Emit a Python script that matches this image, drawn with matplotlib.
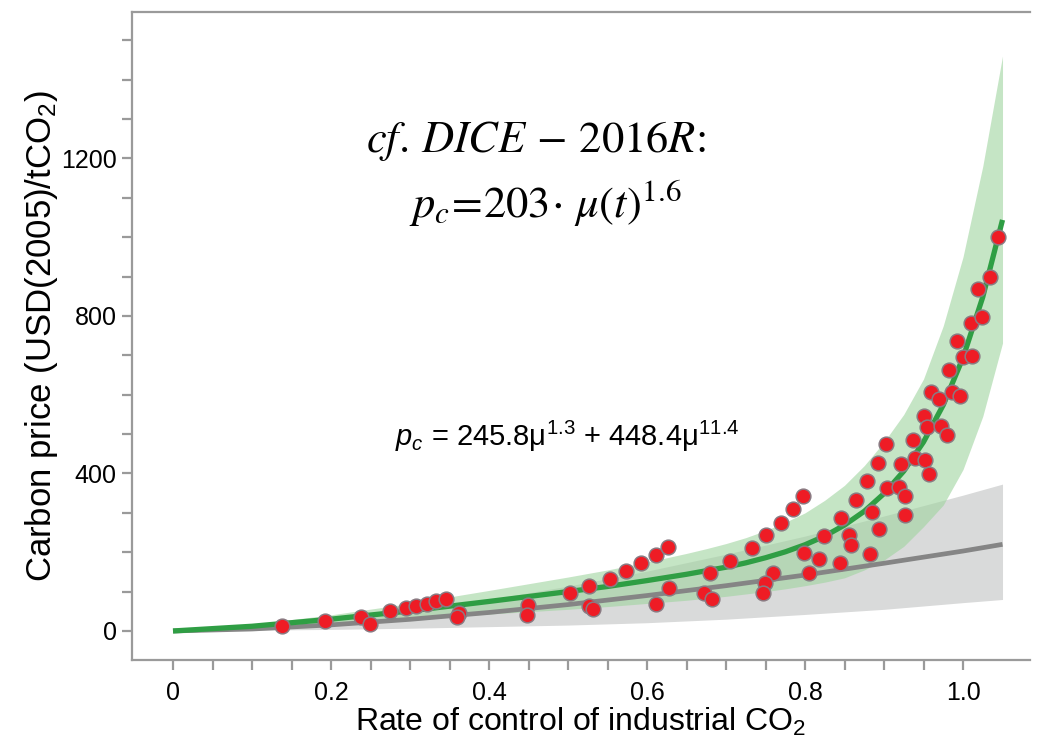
import matplotlib
matplotlib.use("Agg")
import matplotlib.pyplot as plt

plt.rcParams['mathtext.fontset'] = 'custom'
plt.rcParams['mathtext.rm'] = 'Liberation Sans'
plt.rcParams['mathtext.it'] = 'Liberation Sans:italic'
plt.rcParams['mathtext.bf'] = 'Liberation Sans:bold'

# ---- data ----
fit_mu = [0, 0.1, 0.2, 0.3, 0.4, 0.5, 0.55, 0.6, 0.65, 0.675, 0.7, 0.725, 0.75,
          0.775, 0.8, 0.825, 0.85, 0.875, 0.9, 0.925, 0.95, 0.975, 1.0, 1.025, 1.05]
fit_price = [0, 12, 30, 51, 75, 100, 113, 128, 144, 153, 162, 173, 186,
             201, 219, 241, 269, 304, 349, 406, 480, 574, 694, 848, 1044]
fit_upper = [0, 17, 41, 70, 103, 137, 155, 175, 197, 209, 222, 237, 255,
             276, 300, 332, 370, 420, 480, 550, 640, 775, 950, 1180, 1460]
fit_lower = [0, 7, 18, 31, 43, 55, 62, 70, 78, 83, 88, 94, 100,
             107, 115, 124, 135, 155, 180, 215, 265, 320, 410, 545, 731]

dice_mu = [0, 0.1, 0.2, 0.3, 0.4, 0.5, 0.6, 0.7, 0.8, 0.9, 1.0, 1.05]
dice_price = [0, 5, 15.5, 29.6, 47, 67, 90, 115, 142, 172, 203, 220]
dice_upper = [0, 9, 26, 50, 80, 114, 152, 195, 241, 292, 345, 373]
dice_lower = [0, 2, 4, 7, 11, 15, 21, 30, 42, 55, 72, 80]

pts_mu = [0.138, 0.192, 0.238, 0.249, 0.275, 0.295, 0.308, 0.321, 0.333, 0.345,
          0.362, 0.360, 0.449, 0.448, 0.503, 0.527, 0.527, 0.532, 0.553, 0.574,
          0.593, 0.611, 0.626, 0.628, 0.612, 0.680, 0.672, 0.682, 0.705, 0.733,
          0.751, 0.770, 0.785, 0.798, 0.759, 0.749, 0.747, 0.799, 0.805, 0.818,
          0.824, 0.845, 0.844, 0.856, 0.858, 0.864, 0.879, 0.892, 0.903, 0.882,
          0.894, 0.885, 0.904, 0.919, 0.927, 0.927, 0.921, 0.937, 0.939, 0.952,
          0.957, 0.950, 0.955, 0.972, 0.980, 0.960, 0.969, 0.986, 0.996, 0.982,
          0.993, 1.000, 1.012, 1.010, 1.024, 1.019, 1.034, 1.044]
pts_price = [13, 25, 36, 17, 52, 59, 64, 69, 76, 82,
             45, 36, 66, 41, 96, 114, 63, 55, 132, 153,
             173, 193, 214, 108, 69, 147, 97, 80, 178, 210,
             244, 275, 311, 343, 147, 121, 96, 197, 147, 184,
             241, 288, 172, 245, 219, 333, 382, 427, 476, 196,
             259, 302, 364, 366, 344, 295, 425, 485, 440, 434,
             398, 546, 517, 521, 497, 606, 589, 608, 597, 663,
             737, 697, 698, 781, 798, 868, 898, 1000]

x_ticks = [0, 0.2, 0.4, 0.6, 0.8, 1.0]
x_ticklabels = ["0", "0.2", "0.4", "0.6", "0.8", "1.0"]
x_minor = [i * 0.05 for i in range(21)]
y_ticks = [0, 400, 800, 1200]
y_ticklabels = ["0", "400", "800", "1200"]
y_minor = [i * 100 for i in range(16)]

# ---- figure ----
W, H = 1038, 738
fig = plt.figure(figsize=(W / 100, H / 100), dpi=100)
ax = fig.add_axes([132 / W, 1 - 660 / H, (1030 - 132) / W, (660 - 12) / H])

ax.fill_between(dice_mu, dice_lower, dice_upper, color='#d9dada', lw=0, zorder=1)
ax.fill_between(fit_mu, fit_lower, fit_upper, color='#9fd49f', alpha=0.6, lw=0, zorder=2)
ax.plot(dice_mu, dice_price, color='#858585', lw=3.4, zorder=3, solid_capstyle='butt')
ax.plot(fit_mu, fit_price, color='#2f9e44', lw=3.8, zorder=4, solid_capstyle='butt')
ax.scatter(pts_mu, pts_price, s=112, facecolor='#ee1c25', edgecolor='#8a7a82',
           linewidths=1.1, zorder=5)

ax.set_xlim(-0.0519, 1.0848)
ax.set_ylim(-73.7, 1572)

ax.set_xticks(x_ticks)
ax.set_xticklabels(x_ticklabels)
ax.set_yticks(y_ticks)
ax.set_yticklabels(y_ticklabels)
ax.set_xticks(x_minor, minor=True)
ax.set_yticks(y_minor, minor=True)

spine_col = '#9a9a9a'
for side in ['left', 'bottom', 'top']:
    ax.spines[side].set_color(spine_col)
    ax.spines[side].set_linewidth(1.6)
ax.spines['right'].set_visible(False)

ax.tick_params(axis='both', which='both', direction='out', length=7, width=1.6,
               color=spine_col, top=False, right=False)
ax.tick_params(axis='y', which='major', labelsize=18, pad=4)
ax.tick_params(axis='x', which='major', labelsize=18, pad=8)
for lab in ax.get_xticklabels() + ax.get_yticklabels():
    lab.set_family('Liberation Sans')

ax.set_xlabel(r"Rate of control of industrial CO$_2$", fontsize=23,
              family='Liberation Sans', labelpad=1)
ax.set_ylabel(r"Carbon price (USD(2005)/tCO$_2$)", fontsize=25,
              family='Liberation Sans', labelpad=1)

# annotations
fig.text(536 / W, 1 - 152 / H, r"$cf.\,DICE\,-\,2016R$:", ha='center', va='baseline',
         fontsize=32, math_fontfamily='stix', family='STIXGeneral')
fig.text(545 / W, 1 - 218 / H, r"$p_c\!\mathit{=\!203}\!\cdot\,\mu(t)^{\mathit{1.6}}$",
         ha='center', va='baseline', fontsize=32, math_fontfamily='stix')
fig.text(567 / W, 1 - 446 / H, r"$p_c$ = 245.8μ$^{1.3}$ + 448.4μ$^{11.4}$",
         ha='center', va='baseline', fontsize=21, family='Liberation Sans')

fig.savefig("out.png", dpi=100)
